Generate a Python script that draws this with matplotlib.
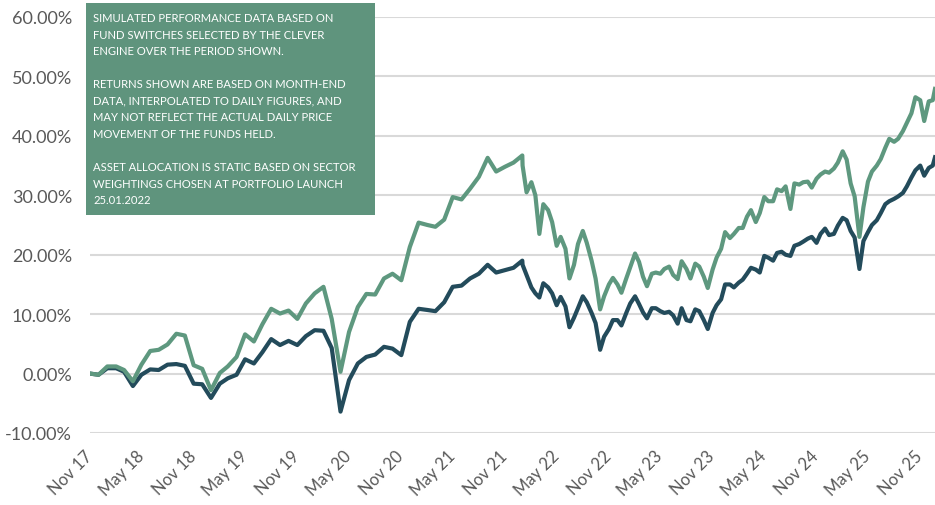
import matplotlib
matplotlib.use("Agg")
import matplotlib.pyplot as plt
from matplotlib.patches import Rectangle
from matplotlib.ticker import FuncFormatter
from matplotlib.transforms import ScaledTranslation
import pandas as pd

# ---------------- data ----------------
# month-end simulated values (Oct 2017 .. Dec 2021)
monthly_dates = pd.date_range("2017-10-31", periods=51, freq="ME")
green_monthly = [0.0, -0.2, 1.2, 1.2, 0.6, -1.3, 1.5, 3.8, 4.0, 4.9, 6.7, 6.4, 1.4, 0.8, -2.8,
                 0.1, 1.2, 2.8, 6.6, 5.4, 8.3, 10.9, 10.1, 10.6, 9.2, 11.8, 13.5, 14.6, 9.2, 0.3,
                 7.0, 11.2, 13.4, 13.3, 16.0, 16.8, 15.7, 21.3, 25.4, 25.0, 24.7, 25.9, 29.7, 29.3,
                 31.1, 33.1, 36.3, 34.0, 34.8, 35.5, 36.7]
dark_monthly = [0.0, -0.2, 0.9, 0.9, 0.3, -2.1, -0.2, 0.7, 0.6, 1.5, 1.6, 1.3, -1.7, -1.8, -4.1,
                -1.7, -0.8, -0.2, 2.4, 1.7, 3.6, 5.8, 4.8, 5.5, 4.8, 6.3, 7.3, 7.2, 4.3, -6.4,
                -1.1, 1.7, 2.8, 3.2, 4.5, 4.2, 3.1, 8.7, 10.9, 10.7, 10.5, 12.0, 14.6, 14.8,
                16.0, 16.8, 18.3, 17.0, 17.4, 17.8, 19.0]

# post-launch values, sampled twice a month (Jan 2022 .. Dec 2025)
daily_dates = list(pd.date_range("2022-01-01", periods=96, freq="SMS")) + [pd.Timestamp("2025-12-23")]
green_daily = [35.0, 30.5, 32.2, 30.0, 23.5, 28.5, 27.5, 25.5, 21.5, 23.0, 21.0, 16.0, 18.3, 21.8,
               24.0, 22.0, 19.0, 16.0, 10.8, 13.0, 15.0, 16.1, 15.0, 13.6, 16.0, 17.9, 20.2, 18.8,
               16.3, 14.7, 16.8, 17.0, 16.8, 17.6, 18.0, 16.6, 15.9, 18.9, 17.6, 16.0, 18.5, 18.0,
               16.3, 14.4, 17.5, 19.5, 21.0, 23.8, 22.8, 23.5, 24.5, 24.5, 26.4, 27.5, 25.5, 27.0,
               29.7, 29.0, 29.0, 31.0, 30.7, 31.5, 27.7, 32.0, 31.8, 32.2, 32.3, 31.3, 32.8, 33.5,
               34.0, 33.8, 34.5, 35.5, 37.4, 36.0, 32.0, 29.8, 23.0, 28.0, 32.3, 34.0, 35.0, 36.1,
               38.0, 39.5, 39.0, 39.5, 40.8, 42.2, 43.8, 46.5, 46.0, 42.5, 45.8, 46.0, 47.9]
dark_daily = [18.3, 16.6, 14.5, 13.5, 12.8, 15.2, 14.5, 13.5, 11.5, 12.9, 11.3, 7.8, 9.4, 11.0,
              13.0, 12.0, 10.2, 8.5, 4.0, 6.2, 7.5, 9.0, 9.0, 8.1, 10.2, 11.8, 13.0, 11.7, 10.3,
              9.3, 11.0, 11.0, 10.5, 10.2, 10.4, 9.8, 8.4, 11.0, 9.0, 8.8, 10.8, 10.5, 9.0, 7.5,
              10.2, 11.5, 12.5, 15.0, 15.0, 14.5, 15.3, 15.8, 16.8, 17.8, 17.5, 17.0, 19.8, 19.5,
              19.0, 20.3, 20.5, 20.0, 19.8, 21.5, 21.8, 22.2, 22.7, 23.0, 22.0, 23.5, 24.4, 23.3,
              23.5, 24.9, 26.2, 25.8, 24.0, 22.9, 17.6, 22.3, 23.8, 25.0, 25.8, 27.0, 28.5, 29.0,
              29.4, 29.8, 30.4, 31.5, 33.0, 34.2, 35.0, 33.3, 34.6, 35.0, 36.4]

y_ticks = [-10, 0, 10, 20, 30, 40, 50, 60]
x_tick_dates = pd.date_range("2017-11-01", "2025-11-01", freq="6MS")
x_tick_labels = [d.strftime("%b %y") for d in x_tick_dates]

note_text = ("SIMULATED PERFORMANCE DATA BASED ON\n"
             "FUND SWITCHES SELECTED BY THE CLEVER\n"
             "ENGINE OVER THE PERIOD SHOWN.\n\n"
             "RETURNS SHOWN ARE BASED ON MONTH-END\n"
             "DATA, INTERPOLATED TO DAILY FIGURES, AND\n"
             "MAY NOT REFLECT THE ACTUAL DAILY PRICE\n"
             "MOVEMENT OF THE FUNDS HELD.\n\n"
             "ASSET ALLOCATION IS STATIC BASED ON SECTOR\n"
             "WEIGHTINGS CHOSEN AT PORTFOLIO LAUNCH\n"
             "25.01.2022")

# ---------------- style ----------------
GREEN = "#5E987F"
DARK = "#234B5B"
BOX = "#5F947D"
GRAY_TXT = "#595959"
GRID = "#D9D9D9"

plt.rcParams["font.family"] = ["Lato", "DejaVu Sans"]

W, H = 935, 506
fig = plt.figure(figsize=(W / 100, H / 100), dpi=100)
ax = fig.add_axes([90 / W, 72 / H, 845 / W, 416 / H])

dates_all = list(monthly_dates) + daily_dates
green_all = green_monthly + green_daily
dark_all = dark_monthly + dark_daily

ax.plot(dates_all, dark_all, color=DARK, lw=3.0, solid_joinstyle="round", zorder=3)
ax.plot(dates_all, green_all, color=GREEN, lw=3.0, solid_joinstyle="round", zorder=4)

ax.set_xlim(dates_all[0], dates_all[-1])
ax.set_ylim(-10, 60)
ax.set_yticks(y_ticks)
ax.yaxis.set_major_formatter(FuncFormatter(lambda v, p: f"{v:.2f}%"))
ax.set_xticks(x_tick_dates)
ax.set_xticklabels(x_tick_labels, rotation=45, ha="right", va="top", rotation_mode="anchor")

ax.grid(axis="y", color=GRID, lw=1.5, zorder=0)
ax.grid(axis="x", visible=False)
for s in ax.spines.values():
    s.set_visible(False)
ax.tick_params(axis="y", length=0, colors=GRAY_TXT, labelsize=13, pad=13)
ax.tick_params(axis="x", length=0, colors=GRAY_TXT, labelsize=12, pad=12)
ax.set_axisbelow(True)
shift = ScaledTranslation(-0.06, 0.02, fig.dpi_scale_trans)
for lab in ax.get_xticklabels():
    lab.set_transform(lab.get_transform() + shift)

# note box
fig.patches.append(Rectangle((86 / W, (H - 216) / H), 289 / W, 212 / H,
                             transform=fig.transFigure, facecolor=BOX, edgecolor="none", zorder=5))
fig.text(93 / W, (H - 13) / H, note_text, color="white", fontsize=8.1, va="top", ha="left",
         linespacing=1.62, zorder=6)

fig.savefig("out.png", dpi=100)
